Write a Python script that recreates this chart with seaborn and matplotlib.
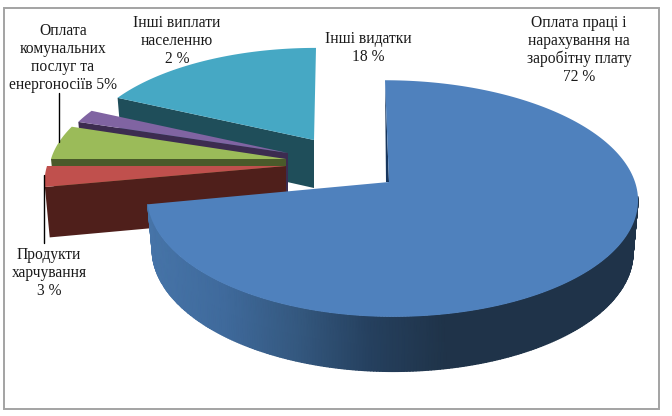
"""Exploded 3D-look pie chart of budget spending shares."""

import numpy as np
import matplotlib.pyplot as plt
import seaborn as sns
from matplotlib.colors import LinearSegmentedColormap
from matplotlib.patches import Rectangle

# Data
categories = [
    "Оплата праці і\nнарахування на\nзаробітну плату\n72 %",
    "Продукти\nхарчування\n3 %",
    "Оплата\nкомунальних\nпослуг та\nенергоносіїв 5%",
    "Інші виплати\nнаселенню\n2 %",
    "Інші видатки\n18 %",
]
shares = [72, 3, 5, 2, 18]

# Colours
top_colors = ["#4f81bd", "#c0504d", "#9bbb59", "#8064a2", "#46a8c4"]
wall_colors = ["#17365d", "#4f1f1b", "#4a5a2a", "#3c2c50", "#1f4e5a"]
side_cmap = LinearSegmentedColormap.from_list(
    "side", ["#4674a8", "#3f6a9c", "#34587f", "#25405e", "#1f3349", "#1f3349"]
)

# Look of each slice in pixels: apex x, apex y, radius left, radius right, radius y, depth, shear
slice_geom = [
    (389, 182, 240, 246, 116, 52, -4),
    (286, 166, 239, 239, 109, 50, 0),
    (286, 159, 235, 235, 109, 48, 0),
    (288, 153, 230, 230, 105, 48, 0),
    (314, 140, 231, 231, 105, 48, 2),
]
label_pos = [(579, 50), (49, 273), (63, 58), (177, 41), (368, 48)]
PERSP = 0.14

sns.set_theme(style="white")
plt.rcParams["font.family"] = ["Liberation Serif", "DejaVu Serif"]


def rim(theta, geom, base=False):
    """Map clockwise angles from 12 o'clock onto the tilted disc."""
    ax0, ay0, r_left, r_right, r_y, depth, shear = geom
    s, c = np.sin(theta), np.cos(theta)
    d = 1 + PERSP * c
    r_x = np.where(s >= 0, r_right, r_left)
    if base:
        r_x = r_x * 0.98
        r_y = r_y * 1.02
        ay0 = ay0 + depth
    return ax0 + r_x * s / d + shear * c, ay0 - r_y * c / d


fig, ax = plt.subplots(figsize=(6.72, 4.16), dpi=100)
fig.subplots_adjust(0, 0, 1, 1)
ax.set_xlim(0, 672)
ax.set_ylim(416, 0)
ax.axis("off")

ax.add_patch(Rectangle((3.5, 8), 655.5, 400.5, fill=False, edgecolor="#a3a3a3", lw=1.4))

edges = np.radians(np.concatenate([[0], np.cumsum(shares)]) * 3.6)

# back slices first, the big one goes on top of them
for i in [4, 3, 2, 1, 0]:
    geom = slice_geom[i]
    a0, a1 = edges[i], edges[i + 1]
    theta = np.linspace(a0, a1, 200)
    x, y = rim(theta, geom)
    z = 5 - i

    if i == 0:
        # outer wall with horizontal shading
        t = np.linspace(np.radians(97), a1, 260)
        xt, yt = rim(t, geom)
        xb, yb = rim(t, geom, base=True)
        ax.pcolormesh(
            np.vstack([xt, xb]), np.vstack([yt, yb]),
            np.clip((np.vstack([xt, xb]) - 150) / 370, 0, 1),
            cmap=side_cmap, vmin=0, vmax=1, shading="gouraud", zorder=z,
        )
        ax.fill(
            [x[0], geom[0], geom[0] - 3], [y[0], geom[1], geom[1]],
            color=wall_colors[i], lw=0, zorder=z + 0.1,
        )
    else:
        # cut face running from the apex out to the lower edge
        xt, yt = rim(np.array([a0]), geom)
        xb, yb = rim(np.array([a0]), geom, base=True)
        ax.fill(
            [xt[0], geom[0], geom[0], xb[0]],
            [yt[0], geom[1], geom[1] + geom[5], yb[0]],
            color=wall_colors[i], lw=0, zorder=z,
        )

    ax.fill(np.r_[geom[0], x], np.r_[geom[1], y], color=top_colors[i], lw=0, zorder=z + 0.5)

for i, label in enumerate(categories):
    ax.text(
        label_pos[i][0], label_pos[i][1], label, ha="center", va="center",
        fontsize=11.2, linespacing=1.17, color="#1a1a1a", zorder=20,
    )

# leader lines
ax.plot([59, 59], [93, 142], color="black", lw=1, zorder=20)
ax.plot([44, 44], [175, 243], color="black", lw=1, zorder=20)

fig.savefig("out.png", dpi=100)
